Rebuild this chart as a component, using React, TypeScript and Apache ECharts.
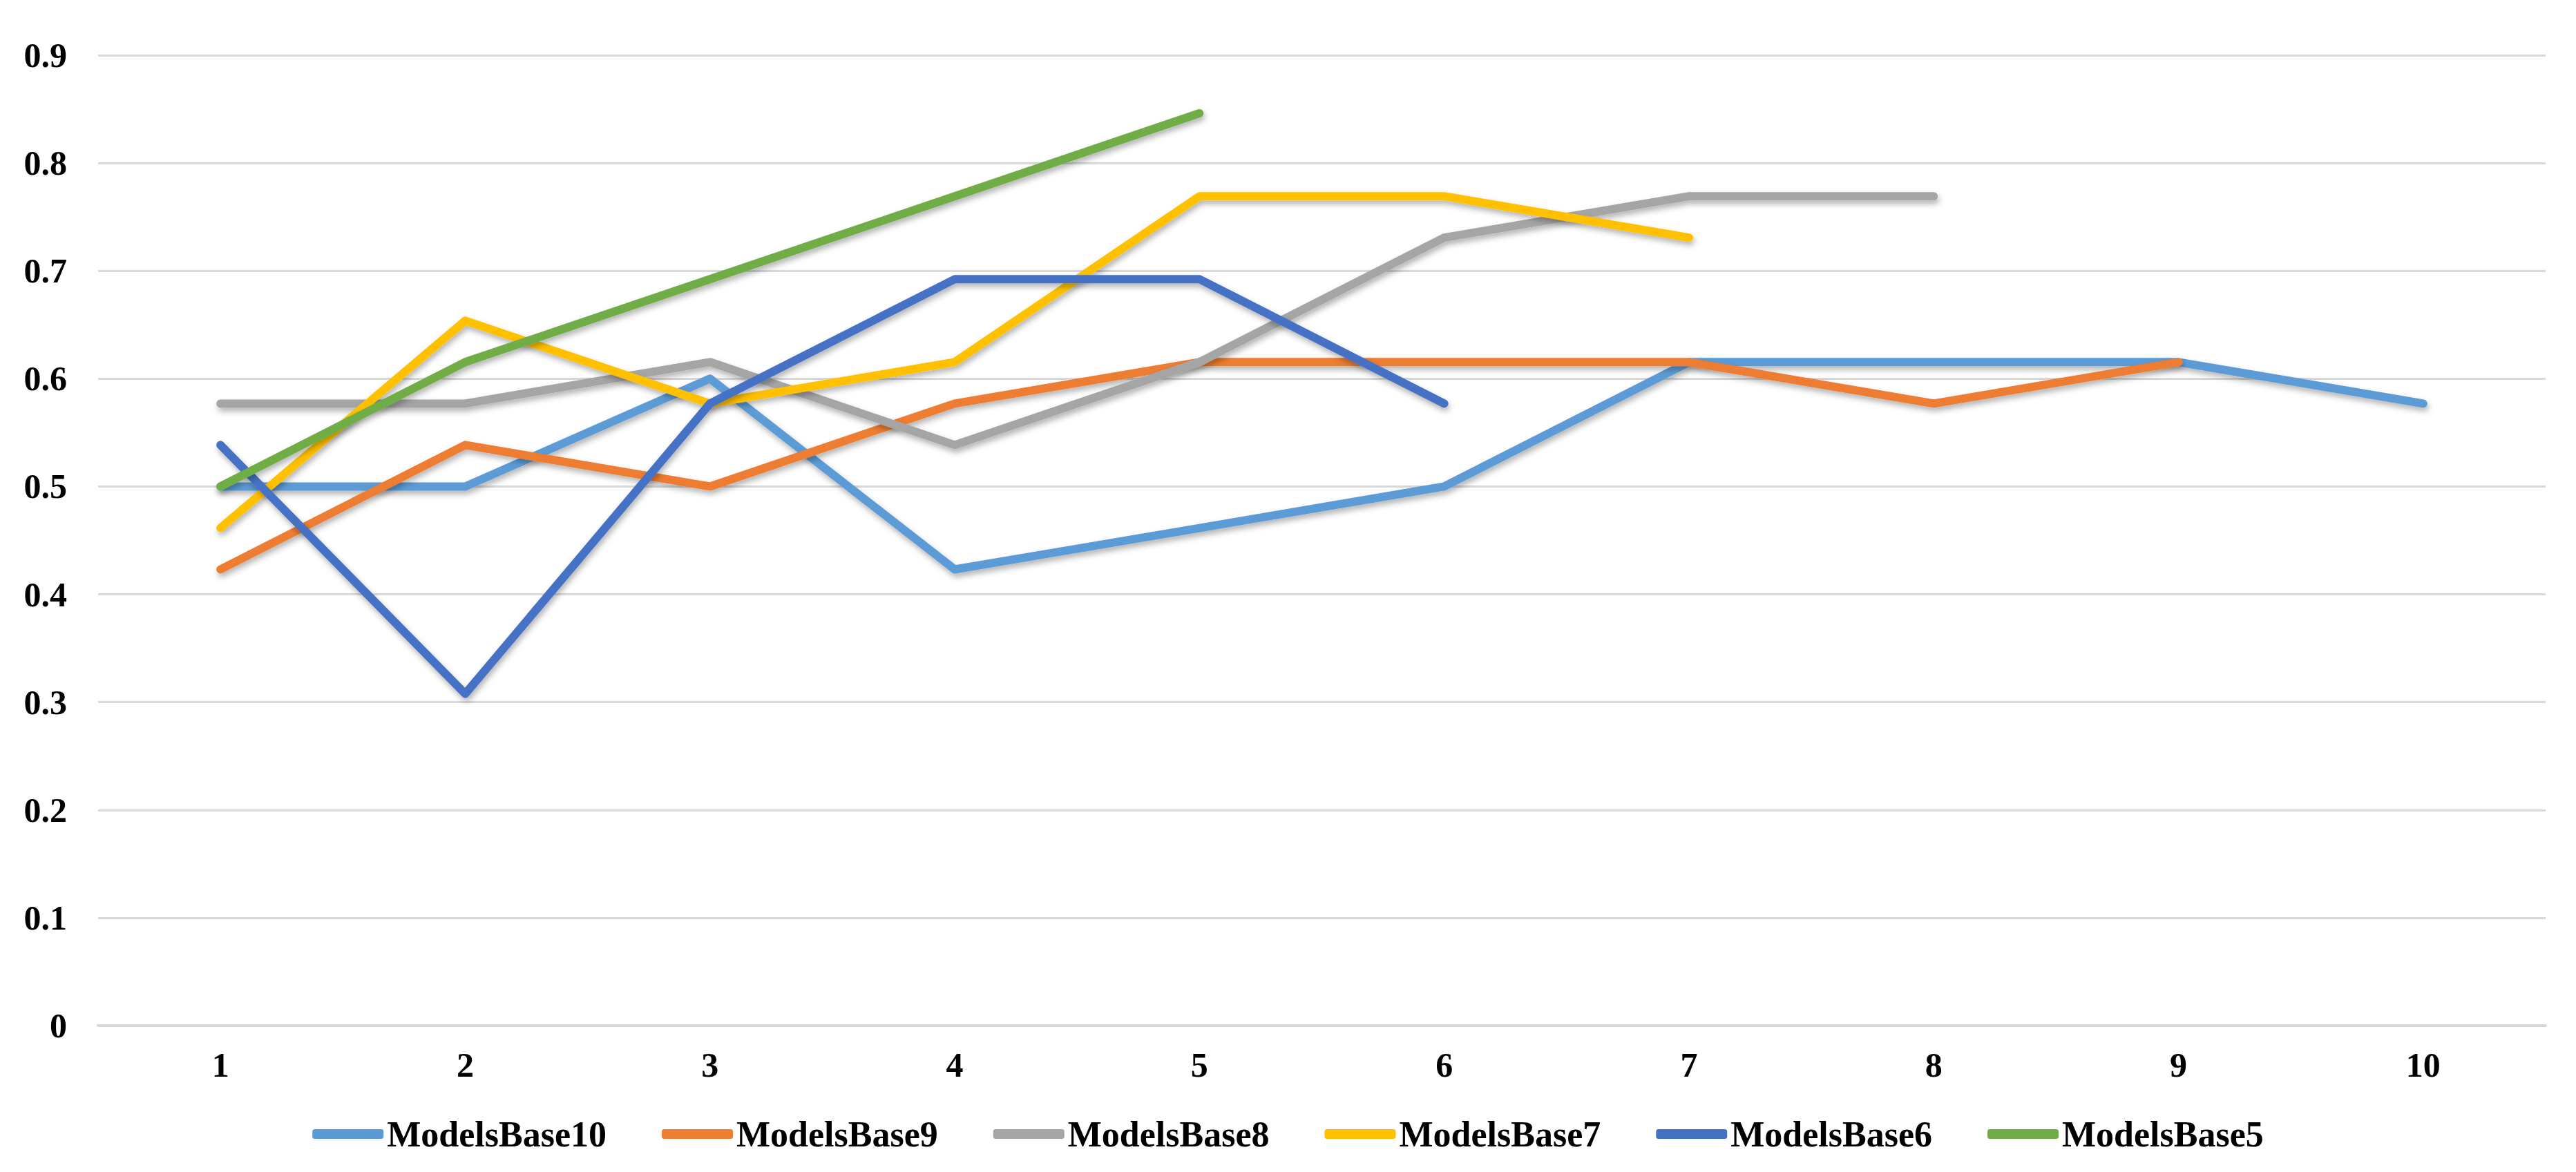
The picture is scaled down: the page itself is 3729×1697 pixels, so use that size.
import React, { useEffect, useRef } from "react";
import * as echarts from "echarts";

const categories = ["1", "2", "3", "4", "5", "6", "7", "8", "9", "10"];

const modelsBase10 = [0.5, 0.5, 0.6, 0.4231, 0.4615, 0.5, 0.6154, 0.6154, 0.6154, 0.5769];
const modelsBase9 = [0.4231, 0.5385, 0.5, 0.5769, 0.6154, 0.6154, 0.6154, 0.5769, 0.6154];
const modelsBase8 = [0.5769, 0.5769, 0.6154, 0.5385, 0.6154, 0.7308, 0.7692, 0.7692];
const modelsBase7 = [0.4615, 0.6538, 0.5769, 0.6154, 0.7692, 0.7692, 0.7308];
const modelsBase6 = [0.5385, 0.3077, 0.5769, 0.6923, 0.6923, 0.5769];
const modelsBase5 = [0.5, 0.6154, 0.6923, 0.7692, 0.8462];

const seriesNames = ["ModelsBase10", "ModelsBase9", "ModelsBase8", "ModelsBase7", "ModelsBase6", "ModelsBase5"];
const seriesData = [modelsBase10, modelsBase9, modelsBase8, modelsBase7, modelsBase6, modelsBase5];
const seriesColors = ["#5B9BD5", "#ED7D31", "#A5A5A5", "#FFC000", "#4472C4", "#70AD47"];

const FONT = "'Liberation Serif', 'Times New Roman', serif";

export default function App() {
  const ref = useRef<HTMLDivElement>(null);
  useEffect(() => {
    if (!ref.current) return;
    const chart = echarts.init(ref.current, null, { renderer: "svg" });
    chart.setOption({
      animation: false,
      backgroundColor: "#ffffff",
      color: seriesColors,
      grid: { left: 142, right: 44, top: 80, bottom: 212, containLabel: false },
      legend: {
        bottom: 20,
        left: "center",
        icon: "roundRect",
        itemWidth: 103,
        itemHeight: 14,
        itemGap: 80,
        textStyle: { fontFamily: FONT, fontWeight: "bold", fontSize: 52, color: "#000", lineHeight: 60 },
        data: seriesNames,
      },
      xAxis: {
        type: "category",
        data: categories,
        boundaryGap: true,
        axisLine: { show: true, lineStyle: { color: "#d9d9d9", width: 4 } },
        axisTick: { show: false },
        axisLabel: { margin: 32, fontFamily: FONT, fontWeight: "bold", fontSize: 50, color: "#000" },
        splitLine: { show: false },
      },
      yAxis: {
        type: "value",
        min: 0,
        max: 0.9,
        interval: 0.1,
        axisLine: { show: false },
        axisTick: { show: false },
        axisLabel: {
          margin: 45,
          fontFamily: FONT,
          fontWeight: "bold",
          fontSize: 50,
          color: "#000",
          formatter: (v: number) => (Math.round(v * 10) / 10).toString(),
        },
        splitLine: { show: true, lineStyle: { color: "#d9d9d9", width: 3 } },
      },
      series: seriesNames.map((name, i) => ({
        name,
        type: "line",
        data: seriesData[i],
        symbol: "none",
        showSymbol: false,
        z: 2 + i,
        lineStyle: {
          color: seriesColors[i],
          width: 12,
          cap: "round",
          join: "round",
          shadowColor: "rgba(0,0,0,0.3)",
          shadowBlur: 8,
          shadowOffsetX: 2,
          shadowOffsetY: 5,
        },
        itemStyle: { color: seriesColors[i] },
      })),
    });
    return () => chart.dispose();
  }, []);
  return (
    <div
      ref={ref}
      style={{ position: "fixed", left: 0, top: 0, width: 3729, height: 1697, background: "#fff" }}
    />
  );
}
